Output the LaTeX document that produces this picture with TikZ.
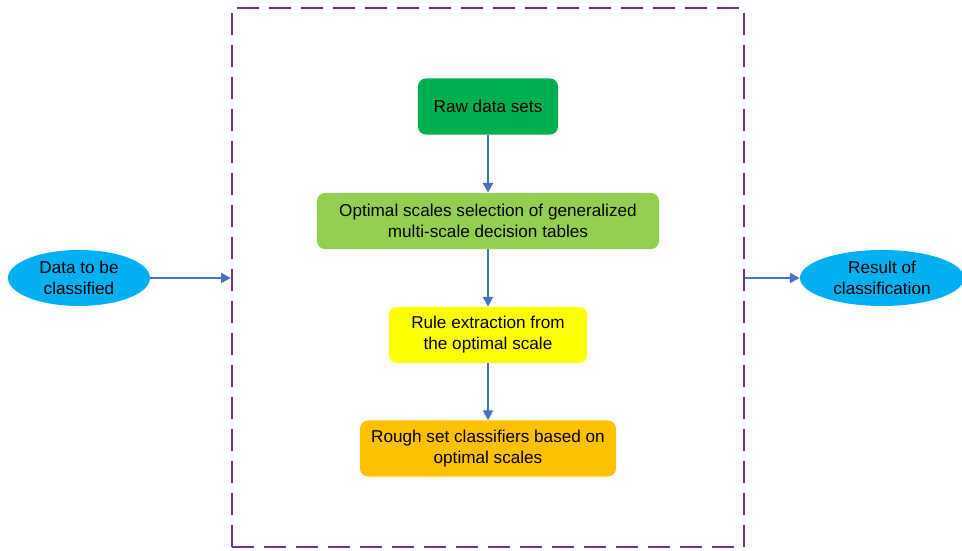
\documentclass[tikz,border=0pt]{standalone}
\usepackage{fontspec}
\setmainfont{Liberation Sans}
\usetikzlibrary{arrows.meta, positioning, shapes.geometric}

\definecolor{rawgreen}{HTML}{00B050}
\definecolor{selgreen}{HTML}{92D050}
\definecolor{ruleyellow}{HTML}{FFFF00}
\definecolor{roughorange}{HTML}{FFC000}
\definecolor{datablue}{HTML}{00B0F0}
\definecolor{flowblue}{HTML}{4472C4}
\definecolor{framepurple}{HTML}{7030A0}

\tikzset{
	stagebox/.style = {rounded corners = 0.2cm, align = center, inner sep = 0pt, minimum height = 1.4cm, font = \fontsize{12.2}{15}\selectfont},
	datanode/.style = {ellipse, fill = datablue, align = center, inner sep = 0pt, minimum width = 3.55cm, minimum height = 1.4cm, font = \fontsize{12.2}{15}\selectfont},
	flow/.style = {draw = flowblue, line width = 1.6pt, -{Triangle[width = 7pt, length = 7pt]}}
}

\begin{document}
\begin{tikzpicture}[x = 0.025cm, y = -0.025cm]
				\useasboundingbox (0,0) rectangle (962,551);
				% outer frame
				\node (frame) [draw = framepurple, line width = 1.5pt, dash pattern = on 0.55cm off 0.25cm, minimum width = 12.8cm, minimum height = 13.475cm, inner sep = 0pt] at (488,277.5) {};
				% stages
				\node (raw) [stagebox, fill = rawgreen, minimum width = 3.5cm] at (488,106.5) {Raw data sets};
				\node (select) [stagebox, fill = selgreen, minimum width = 8.55cm] at (488,221) {Optimal scales selection of generalized\\multi-scale decision tables};
				\node (rule) [stagebox, fill = ruleyellow, minimum width = 4.95cm] at (488,335) {Rule extraction from\\the optimal scale};
				\node (rough) [stagebox, fill = roughorange, minimum width = 6.4cm] at (488,448.5) {Rough set classifiers based on\\optimal scales};
				% input and output
				\node (input) [datanode] at (79,278) {Data to be\\classified};
				\node (output) [datanode, minimum width = 4.1cm] at (882,278) {Result of\\classification};
				\draw [flow] (raw) -- (select);
				\draw [flow] (select) -- (rule);
				\draw [flow] (rule) -- (rough);
				\draw [flow] (input) -- (frame.west |- input);
				\draw [flow] (frame.east |- output) -- (output);
			\end{tikzpicture}
\end{document}
